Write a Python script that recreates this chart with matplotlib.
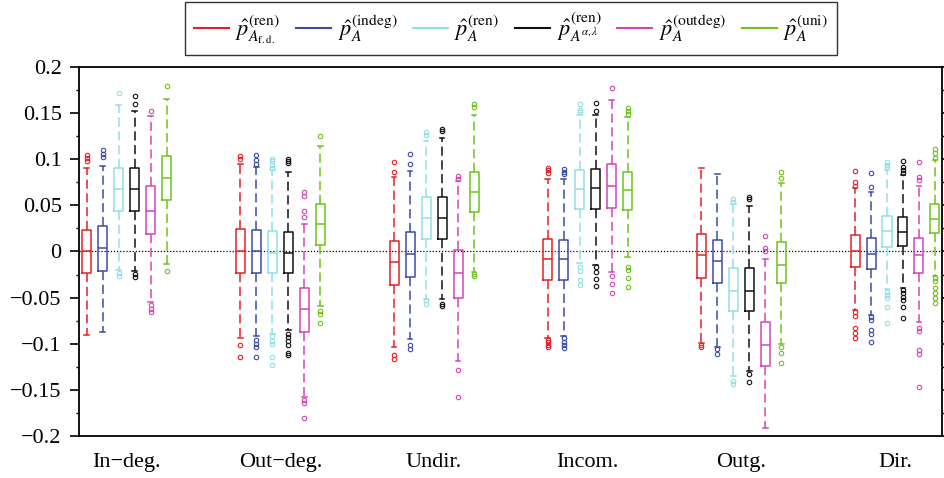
import matplotlib
matplotlib.use("Agg")
import matplotlib.pyplot as plt
from matplotlib.lines import Line2D
from matplotlib.ticker import MultipleLocator, FuncFormatter

plt.rcParams["font.family"] = ["Liberation Serif", "DejaVu Serif"]
plt.rcParams["mathtext.fontset"] = "stix"

groups = ["In\u2212deg.", "Out\u2212deg.", "Undir.", "Incom.", "Outg.", "Dir."]
methods = [
    r"$\hat{p}^{(\mathrm{ren})}_{A_{\mathrm{f.d.}}}$",
    r"$\hat{p}^{(\mathrm{indeg})}_{A}$",
    r"$\hat{p}^{(\mathrm{ren})}_{A}$",
    r"$\hat{p}^{(\mathrm{ren})}_{A^{\alpha,\lambda}}$",
    r"$\hat{p}^{(\mathrm{outdeg})}_{A}$",
    r"$\hat{p}^{(\mathrm{uni})}_{A}$",
]
colors = ["#e42026", "#3c4aa6", "#8fe0e8", "#111111", "#d444b8", "#6cc41a"]

# per method: one value per group (In-deg, Out-deg, Undir, Incom, Outg, Dir)
med = [
    [0.000, 0.0007, -0.0112, -0.0079, -0.0043, 0.000],
    [0.0033, 0.000, -0.0025, -0.0076, -0.0105, -0.0029],
    [0.0679, -0.0018, 0.0365, 0.0679, -0.0426, 0.0217],
    [0.0679, -0.0018, 0.0365, 0.0683, -0.0430, 0.0210],
    [0.0441, -0.0625, -0.0235, 0.0715, -0.1012, -0.0043],
    [0.0799, 0.0296, 0.0643, 0.0665, -0.0141, 0.0347],
]
q1 = [
    [-0.0238, -0.0235, -0.0361, -0.0307, -0.0282, -0.0163],
    [-0.0206, -0.0235, -0.0275, -0.0307, -0.0343, -0.0192],
    [0.0444, -0.0238, 0.0137, 0.0463, -0.0650, 0.0054],
    [0.0444, -0.0228, 0.0137, 0.0463, -0.0640, 0.0061],
    [0.0188, -0.0874, -0.0502, 0.0477, -0.1239, -0.0235],
    [0.0560, 0.0072, 0.0423, 0.0448, -0.0343, 0.0199],
]
q3 = [
    [0.0235, 0.0242, 0.0119, 0.0137, 0.0195, 0.0184],
    [0.0278, 0.0238, 0.0206, 0.0126, 0.0126, 0.0145],
    [0.0903, 0.0217, 0.0589, 0.0885, -0.0181, 0.0387],
    [0.0903, 0.0210, 0.0589, 0.0893, -0.0181, 0.0379],
    [0.0705, -0.0394, 0.0011, 0.0954, -0.0766, 0.0145],
    [0.1030, 0.0517, 0.0860, 0.0860, 0.0098, 0.0517],
]
whislo = [
    [-0.0903, -0.0940, -0.1030, -0.0940, -0.0994, -0.0632],
    [-0.0878, -0.0921, -0.0950, -0.0920, -0.1030, -0.0687],
    [-0.0200, -0.0892, -0.0517, -0.0126, -0.1348, -0.0408],
    [-0.0206, -0.0856, -0.0517, -0.0145, -0.1300, -0.0397],
    [-0.0550, -0.1572, -0.1192, -0.0217, -0.1915, -0.0766],
    [-0.0137, -0.0589, -0.0217, -0.0065, -0.1001, -0.0271],
]
whishi = [
    [0.0900, 0.0947, 0.0806, 0.0784, 0.0900, 0.0687],
    [0.0932, 0.0920, 0.0878, 0.0790, 0.0842, 0.0643],
    [0.1590, 0.0885, 0.1200, 0.1480, 0.0517, 0.0885],
    [0.1528, 0.0860, 0.1229, 0.1480, 0.0488, 0.0831],
    [0.1470, 0.0300, 0.0760, 0.1637, -0.0083, 0.0712],
    [0.1650, 0.1145, 0.1481, 0.1456, 0.0748, 0.0994],
]
fliers = [
    [[0.1048, 0.101, 0.0976],
     [0.103, 0.100, -0.1015, -0.1149],
     [0.0965, 0.086, -0.112, -0.1163],
     [0.091, 0.0885, 0.0856, -0.0958, -0.0986, -0.1012, -0.103],
     [-0.1012, -0.1037],
     [0.0874, 0.0752, 0.0712, -0.0661, -0.0697, -0.0831, -0.0885, -0.094]],
    [[0.1095, 0.1055, 0.1023],
     [0.1044, 0.0994, 0.095, -0.0958, -0.1001, -0.1037, -0.1149],
     [0.1055, 0.0954, -0.1015, -0.1059],
     [0.0892, 0.0867, 0.0838, -0.094, -0.0976, -0.1012, -0.1048],
     [-0.1059, -0.1109],
     [0.0849, 0.0694, -0.0712, -0.0748, -0.0849, -0.0892, -0.0976]],
    [[0.1713, -0.0235, -0.027],
     [0.1005, 0.0976, 0.094, 0.091, -0.0921, -0.0965, -0.1005, -0.1149, -0.1229],
     [0.130, 0.1265, -0.0531, -0.0571],
     [0.160, 0.153, 0.1507, -0.017, -0.021, -0.0307, -0.0361],
     [0.0567, 0.0542, -0.1402, -0.1435],
     [0.0968, 0.094, 0.0914, -0.0434, -0.047, -0.0506, -0.0603, -0.0777]],
    [[0.1687, 0.160, -0.0246, -0.0278],
     [0.1005, 0.0983, 0.0958, -0.0892, -0.0929, -0.0968, -0.1012, -0.1102, -0.1127],
     [0.133, 0.1308, -0.0567, -0.0596],
     [0.1615, 0.1518, -0.017, -0.0224, -0.0296, -0.0369],
     [0.0596, 0.0567, -0.1326, -0.142],
     [0.0976, 0.0921, 0.0885, 0.0849, -0.0416, -0.0452, -0.0495, -0.0524, -0.0603, -0.0726]],
    [[0.1518, -0.0578, -0.0622, -0.0661],
     [0.0647, 0.0603, 0.0434, 0.0379, -0.1615, -0.1644, -0.1807],
     [0.082, 0.079, -0.1283, -0.158],
     [0.1774, -0.0271, -0.035, -0.0452],
     [0.0163, 0.0036, 0.000],
     [0.0965, 0.0806, 0.077, -0.0831, -0.0867, -0.1066, -0.1109, -0.1474]],
    [[0.1796, -0.0206],
     [0.1257, -0.064, -0.0676, -0.077],
     [0.160, 0.157, -0.0242, -0.0264],
     [0.1561, 0.1518, 0.149, -0.0163, -0.0199, -0.0289, -0.039],
     [0.086, 0.0795, -0.103, -0.1095, -0.121],
     [0.1113, 0.1066, 0.1019, -0.0289, -0.0325, -0.0397, -0.0452, -0.0506, -0.0553]],
]

fig = plt.figure(figsize=(9.44, 4.78), dpi=100)
ax = fig.add_axes([0.0837, 0.0879, 0.9142, 0.7719])

n_groups = len(groups)
offset, width = 0.1041, 0.0586
for m, col in enumerate(colors):
    stats = []
    for g in range(n_groups):
        stats.append(dict(med=med[m][g], q1=q1[m][g], q3=q3[m][g],
                          whislo=whislo[m][g], whishi=whishi[m][g],
                          fliers=fliers[m][g]))
    pos = [g + 1 + (m - 2.5) * offset for g in range(n_groups)]
    ax.bxp(stats, positions=pos, widths=width, capwidths=0.03, manage_ticks=False,
           boxprops=dict(color=col, lw=1.1),
           medianprops=dict(color=col, lw=1.1),
           whiskerprops=dict(color=col, lw=1.1, ls=(0, (6, 3))),
           capprops=dict(color=col, lw=1.1),
           flierprops=dict(marker="o", markerfacecolor="none", markeredgecolor=col,
                           markersize=3.2, markeredgewidth=0.8, ls="none"))

ax.axhline(0.0, color="black", lw=0.9, ls=(0, (1, 1.5)), zorder=0)
ax.set_xlim(0.6896, 6.306)
ax.set_ylim(-0.2, 0.2)
ax.set_xticks(range(1, n_groups + 1))
ax.set_xticklabels(groups, fontsize=16)
ax.tick_params(axis="x", length=0, pad=12)
ax.yaxis.set_major_locator(MultipleLocator(0.05))
ax.yaxis.set_minor_locator(MultipleLocator(0.025))
ax.yaxis.set_major_formatter(FuncFormatter(lambda v, p: f"{v:g}".replace("-", "\u2212")))
ax.tick_params(axis="y", which="major", direction="out", length=6.5, width=1.2,
               labelsize=16, pad=6, right=True)
ax.tick_params(axis="y", which="minor", direction="out", length=2.5, width=1.0, right=True)
for s in ax.spines.values():
    s.set_linewidth(1.3)

handles = [Line2D([0], [0], color=c, lw=1.5) for c in colors]
fig.legend(handles, methods, loc="upper center", bbox_to_anchor=(511 / 944, 1 - 2 / 478),
           ncol=6, fontsize=16, frameon=True, fancybox=False, edgecolor="black",
           borderaxespad=0, handlelength=1.58, columnspacing=0.7, handletextpad=0.3,
           borderpad=0.4)

fig.savefig("out.png", dpi=100)
